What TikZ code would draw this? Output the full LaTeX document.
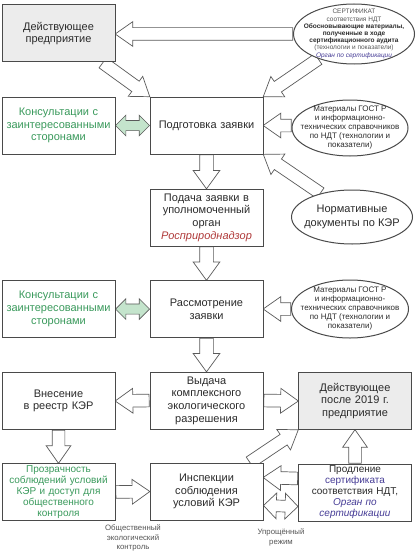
\documentclass[tikz,border=0pt]{standalone}
\usepackage{fontspec}
\setmainfont{Liberation Sans}
\usetikzlibrary{shapes.geometric,shapes.arrows,calc}
\definecolor{boxline}{HTML}{4A4A4A}
\definecolor{arrline}{HTML}{5A5A5A}
\definecolor{boxgray}{HTML}{ECECEC}
\definecolor{txt}{HTML}{2B2B2B}
\definecolor{softgray}{HTML}{555555}
\definecolor{kgreen}{HTML}{3A9A5C}
\definecolor{greenfill}{HTML}{C4E4CC}
\definecolor{kred}{HTML}{B03A3A}
\definecolor{purp}{HTML}{463C96}
\pgfdeclarelayer{bg}
\pgfsetlayers{bg,main}
\tikzset{
  box/.style={draw=boxline, fill=white, line width=1pt, minimum width=113pt, minimum height=57pt,
    text width=110pt, align=center, inner sep=0pt, text=txt, font=\fontsize{11}{12.7}\selectfont},
  graybox/.style={box, fill=boxgray},
  smallbox/.style={box, font=\fontsize{10}{11}\selectfont},
  oval/.style={ellipse, draw=boxline, fill=white, line width=1pt, inner sep=0pt},
  ovaltext/.style={align=center, text=txt, inner sep=0pt},
  note/.style={align=center, text=softgray, font=\fontsize{7.8}{9.5}\selectfont},
  barrow/.style={single arrow, draw=arrline, fill=white, line width=0.7pt, inner xsep=0pt,
    inner ysep=6pt, minimum width=0pt, single arrow head extend=6pt, single arrow tip angle=70},
  vert/.style={inner ysep=6.5pt, single arrow head extend=6.5pt, single arrow tip angle=72},
  darrow/.style={double arrow, draw=arrline, fill=white, line width=0.7pt, inner xsep=0pt,
    inner ysep=5.5pt, minimum width=0pt, double arrow head extend=7pt, double arrow tip angle=90},
  greenarrow/.style={darrow, fill=greenfill, inner ysep=4.75pt, double arrow head extend=5.25pt},
}
\newcommand{\barr}[3][]{%
  \path let \p1=(#2), \p2=(#3), \n1={atan2(\y2-\y1,\x2-\x1)}, \n2={veclen(\x2-\x1,\y2-\y1)} in
    node[barrow, #1, rotate=\n1, minimum height=\n2, anchor=tail] at (\p1) {};}
\newcommand{\darr}[3][]{%
  \path let \p1=(#2), \p2=(#3), \n1={atan2(\y2-\y1,\x2-\x1)}, \n2={veclen(\x2-\x1,\y2-\y1)} in
    node[darrow, #1, rotate=\n1, minimum height=\n2] at ($(\p1)!0.5!(\p2)$) {};}
\begin{document}
\begin{tikzpicture}[x=1pt,y=-1pt]
  \useasboundingbox (0,0) rectangle (419,551);
  \node[graybox] (act) at (58.5,33.5) {Действующее\\предприятие};
  \node[box, text=kgreen] (kon1) at (58.5,125.5) {Консультации с\\заинтересованными\\сторонами};
  \node[box] (pod) at (206.5,125.5) {Подготовка заявки};
  \node[box] (pod2) at (206.5,217.5) {Подача заявки в\\уполномоченный\\орган\\{\itshape\color{kred}Росприроднадзор}};
  \node[box, text=kgreen] (kon2) at (58.5,309) {Консультации с\\заинтересованными\\сторонами};
  \node[box] (ras) at (206.5,309) {Рассмотрение\\заявки};
  \node[box] (vne) at (58.5,401) {Внесение\\в реестр КЭР};
  \node[box] (vyd) at (206.5,400.5) {Выдача\\комплексного\\экологического\\разрешения};
  \node[graybox] (aft) at (355,401) {Действующее\\после 2019 г.\\предприятие};
  \node[smallbox, text=kgreen] (proz) at (58.5,492) {Прозрачность\\соблюдений условий\\КЭР и доступ для\\общественного\\контроля};
  \node[box] (insp) at (206.5,491.5) {Инспекции\\соблюдения\\условий КЭР};
  \node[smallbox] (prod) at (355,492.5) {Продление\\{\color{purp}сертификата}\\соответствия НДТ,\\{\itshape\color{purp}Орган по}\\{\itshape\color{purp}сертификации}};
  \node[oval, minimum width=121pt, minimum height=60pt,
    label={[ovaltext, font=\fontsize{6.5}{7.2}\selectfont]center:{{\color{softgray}СЕРТИФИКАТ}\\{\color{softgray}соответствия НДТ}\\\textbf{Обосновывающие материалы,}\\\textbf{полученные в ходе}\\\textbf{сертификационного аудита}\\{\color{softgray}(технологии и показатели)}\\{\itshape\color{purp}Орган по сертификации}}}] (cert) at (354,34) {};
  \node[oval, minimum width=116pt, minimum height=56pt,
    label={[ovaltext, font=\fontsize{8}{9}\selectfont]center:{Материалы ГОСТ Р\\и информационно-\\технических справочников\\по НДТ (технологии и\\показатели)}}] (gost1) at (350,128) {};
  \node[oval, minimum width=121pt, minimum height=54pt,
    label={[ovaltext, font=\fontsize{11}{14}\selectfont]center:{Нормативные\\документы по КЭР}}] (nor) at (352,217) {};
  \node[oval, minimum width=117pt, minimum height=58pt,
    label={[ovaltext, font=\fontsize{8}{9}\selectfont]center:{Материалы ГОСТ Р\\и информационно-\\технических справочников\\по НДТ (технологии и\\показатели)}}] (gost2) at (350,309) {};
  \node[note] (obsh) at (133,538) {Общественный\\экологический\\контроль};
  \node[note] (upr) at (281,537.5) {Упрощённый\\режим};
  \begin{pgfonlayer}{bg}
    \fill[white] (0,0) rectangle (419,551);
    \barr{cert.west}{act.east |- cert.west}
    \barr{$(act.south east)+(-13,0)$}{pod.north west}
    \barr{cert.215}{pod.north east}
    \darr[greenarrow]{kon1.east}{pod.west}
    \barr{gost1.west |- pod.east}{pod.east}
    \barr{nor.143}{pod.south east}
    \barr[vert]{pod.south}{pod2.north}
    \barr[vert]{pod2.south}{ras.north}
    \darr[greenarrow]{kon2.east}{ras.west}
    \barr{gost2.west |- ras.east}{ras.east}
    \barr[vert]{ras.south}{vyd.north}
    \barr{vyd.west}{vne.east}
    \barr{vyd.east}{aft.west}
    \barr{vne.south}{proz.north}
    \barr{proz.east}{insp.west}
    \barr{$(insp.north east)+(-14,0)$}{aft.south west}
    \barr{prod.north}{aft.south}
    \barr{$(prod.west)+(0,-14)$}{$(insp.east)+(0,-14)$}
    \darr{$(insp.east)+(0,14)$}{$(prod.west)+(0,14)$}
  \end{pgfonlayer}
\end{tikzpicture}
\end{document}
